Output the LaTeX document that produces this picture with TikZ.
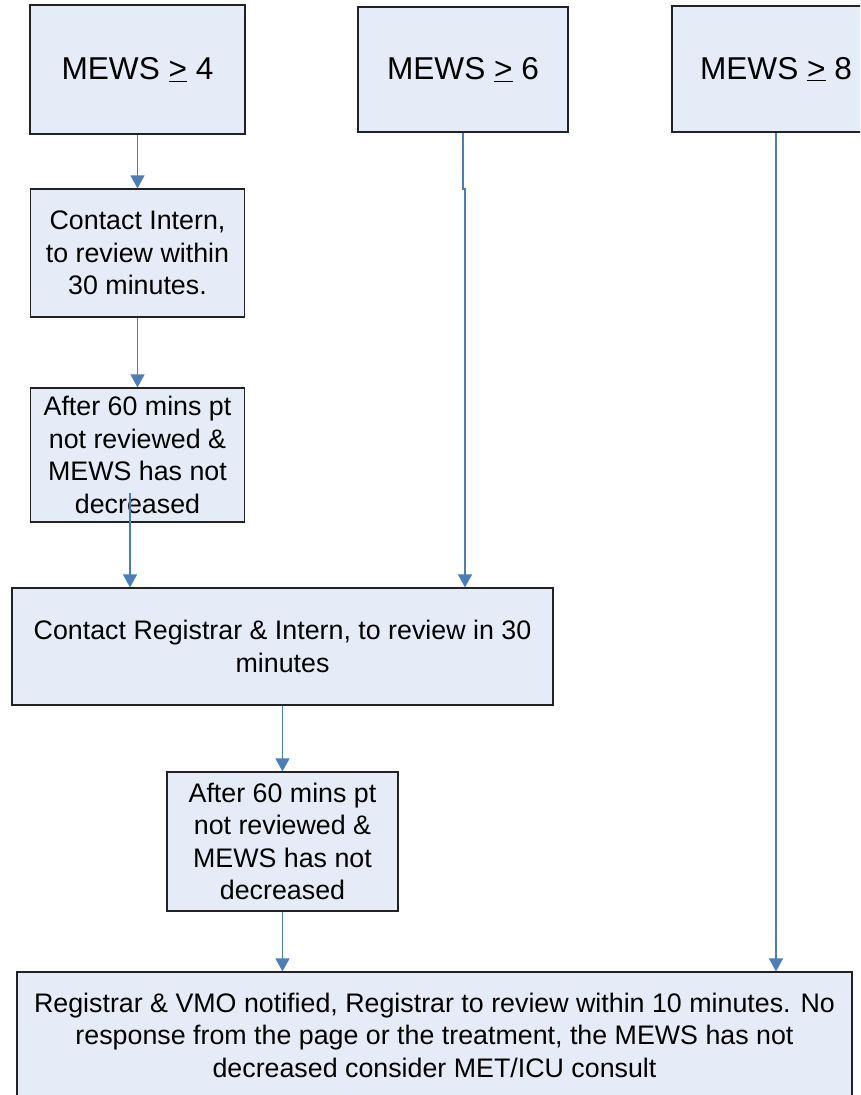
\documentclass[tikz,border=0pt]{standalone}
\usepackage{fontspec}
\setmainfont{Liberation Sans}
\usetikzlibrary{arrows.meta}
\definecolor{boxfill}{HTML}{E6ECF7}
\definecolor{arrowblue}{HTML}{4A7EBB}
\definecolor{boxline}{HTML}{222222}
\begin{document}
\begin{tikzpicture}[x=1pt,y=-1pt,
  box/.style={draw=boxline,line width=1.2pt,fill=boxfill,inner sep=0pt,align=center,font=\fontsize{26.8}{32.5}\selectfont},
  bigbox/.style={box,font=\fontsize{31.6}{38}\selectfont},
  arr/.style={draw=arrowblue,line width=1.2pt,-{Triangle[width=14pt,length=13pt]}}]
\path[use as bounding box] (0,0) rectangle (860,1095);
\clip (0,0) rectangle (860,1095);
\node[bigbox,minimum width=215pt,minimum height=129pt] (b4) at (137.5,69.5) {MEWS \underline{>} 4};
\node[bigbox,minimum width=210pt,minimum height=125pt] (b6) at (463,69.5) {MEWS \underline{>} 6};
\node[bigbox,minimum width=208pt,minimum height=126pt] (b8) at (776,69) {MEWS \underline{>} 8};
\node[box,minimum width=214pt,minimum height=128pt] (ci) at (137.5,253) {Contact Intern,\\to review within\\30 minutes.};
\node[box,minimum width=214pt,minimum height=134pt] (a1) at (137.5,455) {After 60 mins pt\\not reviewed \&\\MEWS has not\\decreased};
\node[box,minimum width=541pt,minimum height=117pt] (reg) at (282.5,646.5) {Contact Registrar \& Intern, to review in 30\\minutes};
\node[box,minimum width=231pt,minimum height=139pt] (a2) at (282.5,841.5) {After 60 mins pt\\not reviewed \&\\MEWS has not\\decreased};
\node[box,minimum width=835pt,minimum height=126pt] (fin) at (434.5,1035) {Registrar \& VMO notified, Registrar to review within 10 minutes. No\\response from the page or the treatment, the MEWS has not\\decreased consider MET/ICU consult};
\draw[arr] (b4.south) -- (ci.north);
\draw[arr] (ci.south) -- (a1.north);
\coordinate (a1out) at (130,493);
\draw[arr] (a1out) -- (a1out |- reg.north);
\coordinate (b6bend) at (463,189);
\coordinate (b6jog) at (465,189);
\draw[arr] (b6.south) -- (b6bend) -- (b6jog) -- (b6jog |- reg.north);
\draw[arr] (reg.south) -- (a2.north);
\draw[arr] (a2.south) -- (a2.south |- fin.north);
\draw[arr] (b8.south) -- (b8.south |- fin.north);
\end{tikzpicture}
\end{document}
